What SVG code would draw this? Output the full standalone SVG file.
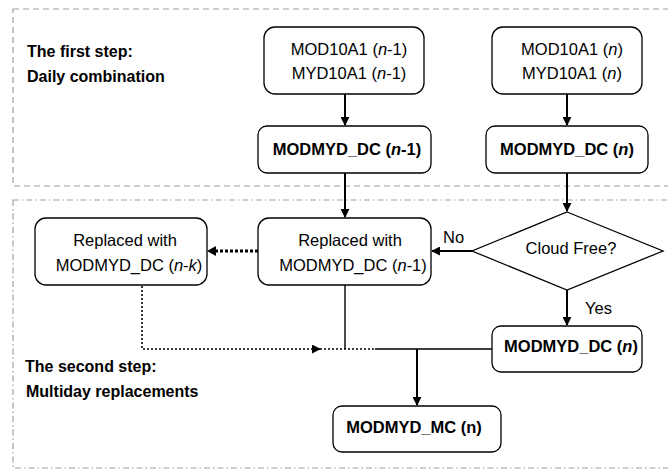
<svg xmlns="http://www.w3.org/2000/svg" width="668" height="470" viewBox="0 0 668 470">
<defs>
<marker id="ah" viewBox="0 0 10 10" refX="9" refY="5" markerWidth="9" markerHeight="9" markerUnits="userSpaceOnUse" orient="auto">
<path d="M0,0 L10,5 L0,10 z" fill="#000"/>
</marker>
</defs>
<style>
text{font-family:"Liberation Sans",Arial,sans-serif;font-size:16.5px;fill:#000}
.b{font-weight:bold}
.lbl{font-size:16px;font-weight:bold}
.node{fill:#fff;stroke:#000;stroke-width:1.3}
.c{fill:none;stroke:#000;stroke-width:2}
.t{fill:none;stroke:#000;stroke-width:1.4}
.dot{fill:none;stroke:#000;stroke-width:1.6;stroke-dasharray:2,2}
.dotb{fill:none;stroke:#000;stroke-width:3;stroke-dasharray:3,2}
.frame1{fill:none;stroke:#a0a0a0;stroke-width:1.2;stroke-dasharray:6,4}
.frame2{fill:none;stroke:#a0a0a0;stroke-width:1.2;stroke-dasharray:6,3,1.5,3}
</style>
<g id="frames">
<rect class="frame1" x="13" y="9" width="680" height="177"/>
<rect class="frame2" x="13" y="200" width="680" height="268"/>
</g>
<g id="labels">
<text class="lbl" x="27" y="57">The first step:</text>
<text class="lbl" x="27" y="82">Daily combination</text>
<text class="lbl" x="25" y="372">The second step:</text>
<text class="lbl" x="26" y="397">Multiday replacements</text>
</g>
<g id="connectors">
<line class="c" x1="345" y1="94" x2="345" y2="125" marker-end="url(#ah)"/>
<line class="c" x1="567" y1="94" x2="567" y2="125" marker-end="url(#ah)"/>
<line class="c" x1="345" y1="173" x2="345" y2="217" marker-end="url(#ah)"/>
<line class="c" x1="567" y1="173" x2="567" y2="211" marker-end="url(#ah)"/>
<line class="c" x1="472" y1="251" x2="432" y2="251" marker-end="url(#ah)"/>
<line class="c" x1="567" y1="290" x2="567" y2="325" marker-end="url(#ah)"/>
<line class="dotb" x1="258" y1="251" x2="216" y2="251"/>
<path d="M216,246 L207,251 L216,256 z" fill="#000"/>
<polyline class="dot" points="142,286 142,349 320,349" marker-end="url(#ah)"/>
<line class="dot" x1="320" y1="349" x2="375" y2="349"/>
<polyline class="t" points="345,285 345,349"/>
<line class="t" x1="375" y1="349" x2="492" y2="349"/>
<line class="c" x1="417" y1="349" x2="417" y2="405" marker-end="url(#ah)"/>
<text x="443" y="243">No</text>
<text x="585" y="314">Yes</text>
</g>
<g id="nodeA">
<rect class="node" x="264" y="27" width="160" height="67" rx="11"/>
<text x="349" y="55" text-anchor="middle">MOD10A1 (<tspan font-style="italic">n</tspan>-1)</text>
<text x="349" y="79" text-anchor="middle">MYD10A1 (<tspan font-style="italic">n</tspan>-1)</text>
</g>
<g id="nodeB">
<rect class="node" x="492" y="27" width="150" height="67" rx="11"/>
<text x="572" y="55" text-anchor="middle">MOD10A1 (<tspan font-style="italic">n</tspan>)</text>
<text x="572" y="79" text-anchor="middle">MYD10A1 (<tspan font-style="italic">n</tspan>)</text>
</g>
<g id="nodeC">
<rect class="node" x="258" y="126" width="173" height="47" rx="9"/>
<text class="b" x="347" y="155" text-anchor="middle">MODMYD_DC (<tspan font-style="italic">n</tspan>-1)</text>
</g>
<g id="nodeD">
<rect class="node" x="486" y="126" width="162" height="47" rx="9"/>
<text class="b" x="567" y="155" text-anchor="middle">MODMYD_DC (<tspan font-style="italic">n</tspan>)</text>
</g>
<g id="nodeE">
<rect class="node" x="258" y="218" width="173" height="67" rx="11"/>
<text x="350" y="246" text-anchor="middle">Replaced with</text>
<text x="353" y="271" text-anchor="middle">MODMYD_DC (<tspan font-style="italic">n</tspan>-1)</text>
</g>
<g id="nodeF">
<rect class="node" x="35" y="218" width="172" height="67" rx="11"/>
<text x="125" y="246" text-anchor="middle">Replaced with</text>
<text x="129" y="271" text-anchor="middle">MODMYD_DC (<tspan font-style="italic">n</tspan>-<tspan font-style="italic">k</tspan>)</text>
</g>
<g id="decision">
<polygon class="node" points="567,212 663,251 567,290 472,251"/>
<text x="571" y="254" text-anchor="middle">Cloud Free?</text>
</g>
<g id="nodeG">
<rect class="node" x="492" y="326" width="150" height="46" rx="9"/>
<text class="b" x="571" y="352" text-anchor="middle">MODMYD_DC (<tspan font-style="italic">n</tspan>)</text>
</g>
<g id="nodeH">
<rect class="node" x="333" y="406" width="168" height="46" rx="9"/>
<text class="b" x="414" y="433" text-anchor="middle">MODMYD_MC (n)</text>
</g>
</svg>
